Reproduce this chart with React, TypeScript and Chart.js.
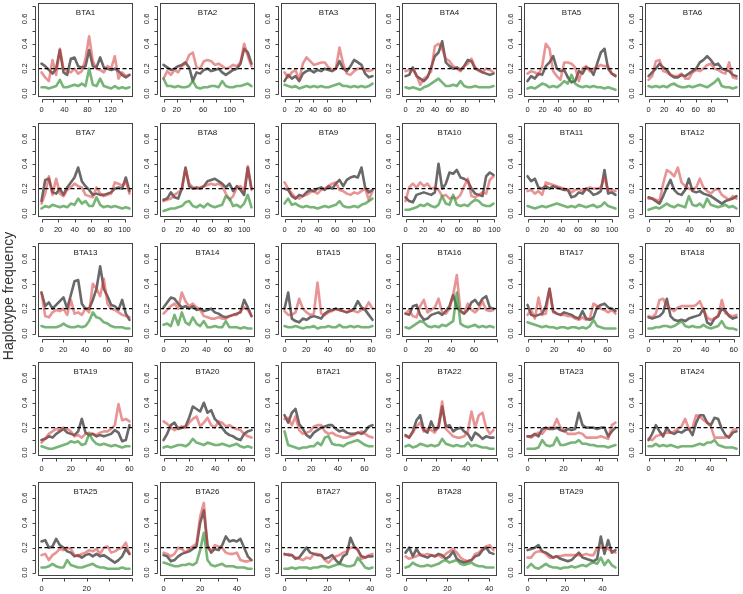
import React, { useEffect, useRef } from 'react';
import { Chart, registerables } from 'chart.js';

Chart.register(...registerables);

// ---------------- data ----------------
const CHROMOSOMES = [
  'BTA1', 'BTA2', 'BTA3', 'BTA4', 'BTA5', 'BTA6', 'BTA7', 'BTA8', 'BTA9', 'BTA10',
  'BTA11', 'BTA12', 'BTA13', 'BTA14', 'BTA15', 'BTA16', 'BTA17', 'BTA18', 'BTA19', 'BTA20',
  'BTA21', 'BTA22', 'BTA23', 'BTA24', 'BTA25', 'BTA26', 'BTA27', 'BTA28', 'BTA29',
];

// position (Mb) of the last window on each chromosome
const CHROM_END = [153, 133, 123, 119, 117, 112, 106, 109, 104, 99, 104, 86, 81, 82, 81, 77, 66, 62, 60, 68, 66, 58, 49, 57, 39, 48, 41, 42, 47];

const X_TICK_STEP = [20, 20, 20, 20, 20, 20, 20, 20, 20, 20, 20, 20, 20, 20, 20, 20, 10, 10, 10, 10, 10, 10, 10, 10, 10, 10, 10, 10, 10];

const X_TICK_LABELS = [
  [0, 40, 80, 120], [0, 20, 60, 100], [0, 20, 40, 60, 80], [0, 20, 40, 60, 80], [0, 20, 40, 60, 80], [0, 20, 40, 60, 80],
  [0, 20, 40, 60, 80, 100], [0, 20, 40, 60, 80, 100], [0, 20, 40, 60, 80, 100], [0, 20, 40, 60, 80, 100], [0, 20, 40, 60, 80, 100], [0, 20, 40, 60, 80],
  [0, 20, 40, 60, 80], [0, 20, 40, 60, 80], [0, 20, 40, 60, 80], [0, 20, 40, 60], [0, 20, 40, 60], [0, 20, 40, 60],
  [0, 20, 40, 60], [0, 20, 40, 60], [0, 20, 40, 60], [0, 20, 40], [0, 20, 40], [0, 20, 40],
  [0, 20], [0, 20, 40], [0, 20, 40], [0, 20, 40], [0, 20, 40],
];

const Y_TICKS = [0, 0.1, 0.2, 0.3, 0.4, 0.5, 0.6, 0.7];
const Y_TICK_LABELS = [0, 0.2, 0.4, 0.6];
const THRESHOLD = 0.2;
const Y_LABEL = 'Haplotype frequency';

const GRAY = [
  [.24,.22,.19,.16,.20,.35,.17,.15,.28,.29,.22,.21,.22,.35,.22,.21,.29,.21,.20,.19,.20,.18,.15,.13,.15],
  [.23,.21,.19,.20,.22,.23,.25,.21,.10,.17,.16,.19,.20,.18,.19,.20,.17,.15,.17,.19,.20,.24,.36,.33,.24],
  [.10,.15,.12,.14,.10,.16,.18,.19,.17,.19,.18,.20,.19,.18,.20,.26,.20,.18,.22,.27,.25,.23,.16,.13,.14],
  [.14,.15,.21,.14,.12,.10,.13,.21,.30,.33,.42,.25,.22,.20,.21,.19,.22,.27,.26,.20,.19,.17,.16,.15,.16],
  [.10,.14,.12,.16,.15,.22,.25,.30,.20,.18,.19,.13,.09,.10,.18,.16,.21,.20,.15,.24,.33,.36,.20,.16,.14],
  [.14,.17,.20,.24,.21,.19,.15,.13,.13,.15,.14,.16,.18,.20,.25,.27,.30,.27,.23,.24,.20,.19,.18,.15,.14],
  [.10,.27,.28,.17,.16,.20,.15,.21,.25,.29,.37,.26,.22,.19,.15,.16,.15,.15,.16,.17,.20,.21,.20,.29,.18],
  [.11,.12,.17,.13,.12,.20,.37,.22,.20,.21,.20,.22,.26,.27,.28,.26,.24,.21,.24,.18,.22,.19,.15,.37,.20],
  [.20,.19,.14,.12,.15,.14,.17,.19,.18,.20,.21,.19,.22,.20,.24,.27,.22,.27,.29,.30,.29,.37,.21,.17,.19],
  [.13,.10,.09,.15,.16,.17,.16,.15,.17,.40,.20,.24,.33,.32,.35,.29,.28,.26,.20,.16,.15,.14,.30,.33,.31],
  [.30,.26,.28,.21,.20,.22,.20,.22,.21,.20,.19,.19,.13,.14,.17,.16,.20,.18,.15,.16,.18,.35,.16,.17,.15],
  [.13,.12,.10,.08,.14,.21,.27,.19,.16,.15,.19,.28,.18,.17,.18,.16,.15,.14,.12,.10,.08,.10,.11,.12,.14],
  [.33,.22,.25,.20,.23,.26,.29,.20,.31,.42,.43,.24,.20,.20,.27,.36,.54,.36,.30,.23,.22,.19,.27,.16,.11],
  [.21,.25,.29,.28,.24,.21,.22,.20,.22,.19,.20,.18,.19,.20,.17,.16,.14,.13,.14,.15,.16,.17,.27,.21,.14],
  [.20,.33,.12,.10,.09,.12,.11,.13,.14,.13,.12,.16,.18,.19,.20,.19,.18,.17,.18,.20,.26,.21,.19,.15,.11],
  [.16,.15,.22,.23,.15,.11,.12,.15,.16,.17,.15,.18,.22,.31,.21,.18,.16,.19,.25,.27,.23,.28,.30,.21,.20],
  [.23,.15,.14,.15,.16,.22,.36,.18,.16,.15,.17,.16,.15,.13,.12,.18,.12,.11,.13,.21,.23,.24,.21,.20,.18],
  [.13,.12,.13,.14,.17,.28,.14,.11,.10,.11,.10,.12,.13,.14,.15,.20,.09,.07,.12,.14,.20,.18,.14,.12,.13],
  [.10,.11,.13,.12,.15,.17,.19,.16,.15,.14,.17,.27,.16,.14,.15,.13,.14,.13,.14,.15,.18,.16,.09,.10,.22],
  [.10,.15,.22,.24,.19,.20,.21,.28,.37,.35,.33,.40,.32,.34,.27,.24,.20,.16,.14,.13,.11,.10,.15,.17,.18],
  [.30,.24,.32,.35,.23,.19,.14,.12,.16,.18,.20,.21,.22,.22,.19,.17,.18,.16,.15,.15,.16,.15,.17,.21,.22],
  [.14,.12,.17,.26,.30,.18,.16,.25,.18,.20,.37,.21,.22,.17,.19,.20,.17,.15,.10,.16,.14,.11,.13,.12,.12],
  [.13,.13,.15,.13,.19,.20,.19,.19,.20,.18,.17,.19,.18,.19,.32,.22,.20,.20,.20,.19,.20,.20,.13,.17,.20],
  [.10,.15,.22,.17,.13,.20,.16,.15,.17,.16,.18,.19,.14,.24,.30,.30,.24,.22,.28,.27,.19,.14,.12,.16,.17],
  [.25,.26,.20,.21,.27,.22,.20,.17,.16,.13,.14,.12,.14,.15,.13,.15,.13,.14,.12,.10,.08,.10,.13,.19,.15],
  [.14,.13,.09,.10,.13,.15,.16,.17,.19,.21,.40,.50,.22,.16,.19,.18,.22,.29,.25,.26,.25,.27,.20,.13,.10],
  [.15,.14,.14,.11,.12,.16,.20,.16,.15,.14,.14,.11,.12,.14,.10,.07,.13,.15,.28,.21,.18,.13,.12,.13,.13],
  [.16,.20,.13,.19,.14,.13,.12,.14,.13,.15,.14,.11,.13,.17,.11,.09,.08,.09,.10,.13,.14,.18,.20,.16,.15],
  [.18,.19,.20,.22,.17,.16,.14,.12,.13,.11,.10,.09,.10,.13,.16,.12,.11,.10,.09,.11,.29,.15,.26,.16,.18],
];

const RED = [
  [.17,.13,.10,.27,.15,.36,.20,.18,.17,.20,.16,.18,.28,.46,.26,.20,.19,.17,.22,.20,.30,.12,.17,.14,.15],
  [.12,.18,.15,.19,.17,.22,.24,.31,.33,.21,.20,.26,.27,.26,.23,.24,.22,.20,.21,.23,.22,.25,.40,.30,.22],
  [.17,.13,.17,.19,.11,.24,.29,.26,.23,.24,.25,.25,.21,.19,.20,.37,.24,.16,.15,.18,.20,.20,.19,.18,.19],
  [.18,.19,.19,.15,.07,.12,.14,.18,.38,.40,.36,.28,.26,.22,.20,.18,.22,.24,.28,.21,.18,.17,.20,.19,.17],
  [.16,.18,.17,.15,.22,.40,.36,.18,.14,.11,.25,.25,.24,.21,.10,.20,.22,.18,.20,.21,.23,.22,.22,.16,.15],
  [.11,.14,.26,.27,.18,.17,.15,.14,.14,.16,.12,.12,.17,.19,.18,.20,.23,.24,.20,.19,.17,.16,.25,.13,.12],
  [.08,.16,.30,.15,.28,.16,.14,.19,.21,.24,.22,.21,.15,.14,.13,.21,.16,.14,.15,.16,.25,.24,.22,.26,.16],
  [.10,.11,.12,.15,.17,.19,.36,.24,.21,.20,.21,.22,.23,.24,.23,.24,.22,.16,.11,.14,.21,.22,.18,.38,.19],
  [.25,.20,.16,.13,.12,.14,.15,.17,.18,.16,.19,.20,.22,.24,.25,.19,.18,.16,.15,.17,.16,.18,.20,.11,.18],
  [.10,.21,.24,.21,.25,.22,.24,.20,.21,.19,.14,.15,.12,.13,.12,.15,.22,.28,.14,.13,.15,.17,.16,.27,.30],
  [.18,.19,.16,.18,.15,.25,.24,.23,.22,.21,.20,.19,.17,.19,.20,.18,.20,.21,.20,.20,.21,.29,.18,.19,.18],
  [.12,.12,.11,.10,.24,.35,.33,.30,.37,.25,.22,.20,.19,.21,.28,.21,.18,.16,.19,.20,.15,.13,.11,.14,.12],
  [.33,.14,.13,.17,.19,.18,.20,.15,.27,.16,.17,.15,.20,.17,.40,.36,.30,.44,.24,.20,.19,.17,.15,.14,.13],
  [.16,.19,.22,.24,.20,.33,.26,.22,.24,.21,.19,.14,.13,.12,.12,.13,.12,.12,.14,.15,.15,.18,.21,.19,.14],
  [.18,.15,.15,.17,.28,.20,.17,.15,.16,.41,.16,.15,.17,.18,.20,.19,.18,.17,.19,.18,.17,.19,.20,.25,.20],
  [.16,.19,.14,.13,.22,.27,.17,.19,.21,.28,.17,.16,.20,.31,.47,.18,.16,.24,.19,.17,.20,.26,.19,.18,.19],
  [.15,.19,.12,.29,.15,.16,.36,.17,.16,.15,.15,.14,.14,.12,.11,.13,.11,.12,.24,.22,.20,.19,.17,.19,.16],
  [.14,.13,.16,.27,.28,.22,.20,.18,.21,.22,.22,.22,.22,.23,.26,.19,.13,.11,.12,.14,.27,.16,.15,.14,.15],
  [.08,.11,.15,.17,.19,.18,.20,.19,.17,.13,.14,.12,.15,.16,.15,.14,.16,.17,.17,.19,.22,.39,.26,.27,.25],
  [.25,.23,.20,.18,.20,.21,.20,.24,.27,.29,.21,.24,.28,.22,.20,.25,.24,.21,.22,.20,.19,.18,.15,.13,.12],
  [.27,.28,.22,.29,.18,.15,.16,.17,.21,.22,.22,.17,.15,.16,.14,.13,.12,.12,.13,.14,.16,.17,.15,.13,.12],
  [.13,.12,.16,.21,.24,.17,.19,.18,.16,.22,.41,.19,.16,.13,.12,.12,.13,.17,.33,.20,.30,.32,.20,.15,.18],
  [.13,.12,.14,.16,.15,.19,.20,.20,.27,.20,.18,.15,.15,.15,.16,.15,.12,.12,.12,.12,.13,.12,.11,.22,.24],
  [.11,.10,.13,.14,.15,.16,.16,.17,.19,.21,.27,.19,.20,.30,.29,.26,.24,.21,.12,.12,.12,.12,.13,.18,.19],
  [.14,.15,.10,.14,.16,.19,.18,.20,.19,.14,.13,.15,.16,.18,.17,.19,.15,.20,.21,.16,.17,.19,.20,.24,.15],
  [.16,.15,.13,.15,.20,.19,.16,.19,.21,.23,.45,.56,.20,.17,.22,.21,.20,.16,.15,.15,.16,.10,.09,.09,.10],
  [.14,.15,.14,.12,.11,.10,.12,.11,.15,.15,.14,.10,.08,.11,.13,.14,.16,.17,.20,.20,.19,.11,.12,.14,.15],
  [.13,.11,.12,.13,.15,.14,.15,.14,.13,.14,.12,.15,.17,.19,.16,.12,.10,.09,.10,.15,.16,.19,.21,.22,.18],
  [.12,.12,.16,.17,.17,.15,.12,.12,.13,.13,.14,.14,.14,.14,.14,.14,.15,.14,.14,.20,.20,.20,.19,.17,.16],
];

const GREEN = [
  [.05,.05,.04,.05,.06,.11,.05,.05,.06,.07,.06,.08,.06,.20,.07,.06,.12,.06,.05,.04,.06,.04,.05,.04,.05],
  [.12,.06,.06,.05,.06,.05,.05,.06,.10,.05,.04,.05,.05,.06,.06,.05,.10,.06,.05,.05,.06,.06,.07,.08,.06],
  [.07,.06,.05,.06,.04,.05,.06,.05,.06,.05,.06,.05,.05,.06,.07,.08,.06,.06,.05,.06,.05,.06,.05,.06,.08],
  [.05,.04,.05,.04,.03,.05,.06,.08,.10,.12,.09,.06,.06,.07,.06,.10,.06,.05,.05,.06,.05,.05,.05,.05,.06],
  [.04,.05,.04,.06,.08,.07,.05,.06,.05,.07,.10,.08,.15,.08,.06,.05,.06,.05,.06,.05,.05,.04,.05,.04,.03],
  [.06,.05,.06,.05,.06,.05,.07,.08,.06,.05,.05,.06,.05,.06,.07,.06,.05,.07,.09,.12,.06,.05,.05,.04,.05],
  [.04,.06,.05,.07,.06,.05,.06,.05,.08,.07,.12,.08,.10,.06,.06,.13,.07,.05,.06,.05,.06,.05,.04,.05,.04],
  [.02,.03,.04,.04,.05,.06,.09,.10,.06,.05,.07,.05,.08,.06,.05,.06,.07,.14,.12,.06,.07,.05,.08,.15,.05],
  [.08,.12,.07,.08,.06,.05,.06,.05,.05,.04,.05,.06,.05,.06,.07,.10,.06,.05,.05,.06,.05,.07,.08,.10,.12],
  [.03,.03,.04,.05,.07,.06,.08,.06,.05,.07,.14,.08,.07,.15,.07,.06,.07,.06,.09,.11,.10,.07,.06,.06,.08],
  [.06,.05,.04,.05,.06,.05,.06,.07,.08,.07,.06,.05,.06,.05,.07,.06,.05,.06,.07,.05,.06,.09,.06,.05,.04],
  [.03,.04,.05,.04,.06,.08,.06,.05,.07,.06,.05,.14,.07,.06,.08,.05,.12,.07,.06,.05,.06,.07,.05,.06,.04],
  [.06,.05,.05,.05,.05,.06,.08,.06,.05,.05,.06,.05,.06,.10,.17,.13,.12,.09,.08,.06,.05,.05,.05,.04,.04],
  [.07,.08,.06,.15,.07,.17,.09,.07,.13,.08,.06,.10,.05,.05,.06,.05,.05,.10,.05,.05,.05,.04,.05,.04,.04],
  [.06,.05,.05,.06,.05,.04,.05,.05,.06,.04,.05,.05,.06,.05,.05,.07,.05,.05,.06,.05,.06,.05,.05,.05,.06],
  [.05,.04,.06,.08,.10,.09,.06,.05,.06,.05,.07,.06,.08,.10,.33,.08,.06,.05,.06,.07,.05,.06,.05,.06,.05],
  [.09,.08,.07,.06,.05,.06,.05,.05,.04,.05,.05,.04,.05,.05,.04,.05,.04,.06,.11,.06,.05,.04,.04,.04,.04],
  [.04,.04,.05,.05,.06,.06,.05,.06,.08,.10,.06,.05,.06,.05,.05,.07,.05,.04,.05,.06,.10,.05,.04,.04,.03],
  [.05,.04,.03,.03,.04,.05,.06,.07,.09,.08,.09,.06,.07,.15,.10,.07,.06,.07,.06,.05,.06,.05,.04,.05,.05],
  [.04,.05,.04,.05,.06,.06,.05,.07,.11,.08,.07,.06,.08,.07,.06,.06,.07,.06,.05,.06,.07,.05,.04,.05,.04],
  [.17,.06,.05,.04,.03,.04,.04,.05,.05,.08,.06,.12,.13,.07,.06,.06,.05,.07,.08,.09,.10,.08,.06,.05,.05],
  [.05,.06,.04,.05,.07,.06,.05,.06,.05,.06,.11,.07,.06,.05,.06,.05,.05,.08,.05,.06,.05,.04,.04,.03,.03],
  [.03,.03,.03,.04,.10,.06,.05,.06,.12,.06,.06,.07,.08,.08,.10,.07,.07,.06,.06,.05,.05,.05,.04,.05,.06],
  [.05,.05,.07,.05,.06,.05,.06,.05,.04,.05,.05,.05,.05,.06,.07,.06,.08,.08,.10,.06,.05,.04,.04,.04,.03],
  [.04,.04,.05,.07,.05,.04,.04,.10,.06,.05,.04,.04,.05,.06,.07,.05,.04,.04,.03,.03,.03,.03,.04,.03,.03],
  [.08,.07,.06,.05,.05,.06,.06,.07,.06,.08,.18,.32,.10,.06,.05,.06,.07,.05,.05,.05,.04,.04,.04,.03,.03],
  [.03,.03,.04,.03,.04,.04,.04,.03,.04,.04,.05,.05,.04,.05,.06,.07,.06,.05,.05,.06,.12,.08,.04,.03,.04],
  [.04,.05,.08,.06,.05,.05,.06,.05,.06,.07,.09,.10,.08,.09,.10,.07,.06,.07,.08,.06,.05,.05,.04,.04,.04],
  [.04,.07,.04,.03,.05,.07,.05,.04,.04,.03,.04,.04,.05,.04,.05,.06,.05,.07,.08,.07,.12,.06,.10,.06,.04],
];

// ---------------- styling / layout ----------------
const FONT = '"Liberation Sans", Arial, Helvetica, sans-serif';
const TEXT_COLOR = '#222';
const AXIS_COLOR = '#444';
const GRAY_COLOR = 'rgb(105,105,105)';
const RED_COLOR = 'rgba(215,60,60,0.55)';
const GREEN_COLOR = 'rgba(60,150,60,0.7)';
const LINE_W = 2.6;

const COLS = 6;
const BOX_X0 = 38.3;
const COL_PITCH = 121.35;
const BOX_Y0 = 3;
const ROW_PITCH = 119.8;
const BOX_W = 95;
const BOX_H = 94;
const AXIS_W = 30;
const AXIS_H = 20;
const PAD_T = 4;
const PAD_R = 4;
const CANVAS_W = AXIS_W + BOX_W + PAD_R;
const CANVAS_H = PAD_T + BOX_H + AXIS_H;

function Panel({ index }: { index: number }) {
  const ref = useRef<HTMLCanvasElement | null>(null);
  const col = index % COLS;
  const row = Math.floor(index / COLS);
  const boxLeft = Math.round(BOX_X0 + col * COL_PITCH);
  const boxTop = Math.round(BOX_Y0 + row * ROW_PITCH);

  useEffect(() => {
    const canvas = ref.current;
    if (!canvas) return;
    const end = CHROM_END[index];
    const xMin = -0.04 * end;
    const xMax = 1.04 * end;
    const toPoints = (vals: number[]) => vals.map((y, i) => ({ x: (i * end) / (vals.length - 1), y }));
    const xTickValues: number[] = [];
    for (let v = 0; v <= xMax + 1e-9; v += X_TICK_STEP[index]) xTickValues.push(v);
    const labels = X_TICK_LABELS[index];
    const title = CHROMOSOMES[index];

    const framePlugin = {
      id: 'rFrame',
      afterDraw(chart: any) {
        const { ctx, chartArea: a, scales } = chart;
        const xs = scales.x;
        const ys = scales.y;
        ctx.save();
        ctx.strokeStyle = AXIS_COLOR;
        ctx.lineWidth = 1;
        const l = Math.round(a.left) + 0.5;
        const t = Math.round(a.top) + 0.5;
        const r = Math.round(a.right) - 0.5;
        const b = Math.round(a.bottom) - 0.5;
        ctx.strokeRect(l, t, r - l, b - t);
        // bottom axis
        const xp = xs.ticks.map((tk: any) => Math.round(xs.getPixelForValue(tk.value)) + 0.5);
        const ay = b + 3;
        ctx.beginPath();
        ctx.moveTo(xp[0], ay);
        ctx.lineTo(xp[xp.length - 1], ay);
        xp.forEach((p: number) => { ctx.moveTo(p, ay); ctx.lineTo(p, ay + 3); });
        // left axis
        const yp = ys.ticks.map((tk: any) => Math.round(ys.getPixelForValue(tk.value)) + 0.5);
        const ax = l - 3;
        ctx.moveTo(ax, yp[0]);
        ctx.lineTo(ax, yp[yp.length - 1]);
        yp.forEach((p: number) => { ctx.moveTo(ax, p); ctx.lineTo(ax - 3, p); });
        ctx.stroke();
        // panel title inside the box
        ctx.fillStyle = TEXT_COLOR;
        ctx.font = `8px ${FONT}`;
        ctx.textAlign = 'center';
        ctx.textBaseline = 'middle';
        ctx.fillText(title, (a.left + a.right) / 2, a.top + 9.5);
        ctx.restore();
      },
    };

    const lineDs = (data: any[], color: string, order: number) => ({
      data,
      borderColor: color,
      borderWidth: LINE_W,
      pointRadius: 0,
      tension: 0,
      order,
      borderCapStyle: 'round',
      borderJoinStyle: 'round',
    });

    const chart = new Chart(canvas, {
      type: 'line',
      data: {
        datasets: [
          {
            data: [{ x: xMin, y: THRESHOLD }, { x: xMax, y: THRESHOLD }],
            borderColor: '#000',
            borderWidth: 1.1,
            borderDash: [4, 2.5],
            pointRadius: 0,
            order: 0,
          },
          lineDs(toPoints(GREEN[index]), GREEN_COLOR, 1),
          lineDs(toPoints(RED[index]), RED_COLOR, 2),
          lineDs(toPoints(GRAY[index]), GRAY_COLOR, 3),
        ] as any,
      },
      options: {
        animation: false,
        responsive: false,
        devicePixelRatio: 1,
        events: [],
        layout: { padding: { left: 0, right: PAD_R, top: PAD_T, bottom: 0 }, autoPadding: false } as any,
        plugins: { legend: { display: false }, tooltip: { enabled: false }, title: { display: false } },
        scales: {
          x: {
            type: 'linear',
            min: xMin,
            max: xMax,
            grid: { display: false, drawTicks: false, tickLength: 0 },
            border: { display: false },
            afterBuildTicks: (s: any) => { s.ticks = xTickValues.map((value) => ({ value })); },
            afterFit: (s: any) => { s.height = AXIS_H; s.paddingLeft = 0; s.paddingRight = 0; },
            ticks: {
              autoSkip: false,
              maxRotation: 0,
              minRotation: 0,
              padding: 8,
              color: TEXT_COLOR,
              font: { family: FONT, size: 7.5 },
              callback: (v: any) => (labels.includes(Number(v)) ? String(v) : ''),
            },
          },
          y: {
            type: 'linear',
            min: -0.028,
            max: 0.728,
            grid: { display: false, drawTicks: false, tickLength: 0 },
            border: { display: false },
            afterBuildTicks: (s: any) => { s.ticks = Y_TICKS.map((value) => ({ value })); },
            afterFit: (s: any) => { s.width = AXIS_W; s.paddingTop = 0; s.paddingBottom = 0; },
            ticks: {
              autoSkip: false,
              minRotation: 90,
              maxRotation: 90,
              crossAlign: 'center',
              padding: 8,
              color: TEXT_COLOR,
              font: { family: FONT, size: 7.5 },
              callback: (v: any) =>
                Y_TICK_LABELS.some((lv) => Math.abs(lv - Number(v)) < 1e-6) ? Number(v).toFixed(1) : '',
            },
          },
        } as any,
      },
      plugins: [framePlugin],
    } as any);
    return () => chart.destroy();
  }, [index]);

  return (
    <canvas
      ref={ref}
      width={CANVAS_W}
      height={CANVAS_H}
      style={{
        position: 'absolute',
        left: boxLeft - AXIS_W,
        top: boxTop - PAD_T,
        width: CANVAS_W,
        height: CANVAS_H,
      }}
    />
  );
}

export default function App() {
  return (
    <div
      style={{
        position: 'absolute',
        left: 0,
        top: 0,
        width: 743,
        height: 594,
        background: '#fff',
        overflow: 'hidden',
      }}
    >
      {CHROMOSOMES.map((_, i) => (
        <Panel key={i} index={i} />
      ))}
      <div
        style={{
          position: 'absolute',
          left: 8 - 100,
          top: 296 - 9,
          width: 200,
          height: 18,
          lineHeight: '18px',
          textAlign: 'center',
          transform: 'rotate(-90deg)',
          fontFamily: FONT,
          fontSize: 14,
          color: '#333',
          whiteSpace: 'nowrap',
        }}
      >
        {Y_LABEL}
      </div>
    </div>
  );
}
